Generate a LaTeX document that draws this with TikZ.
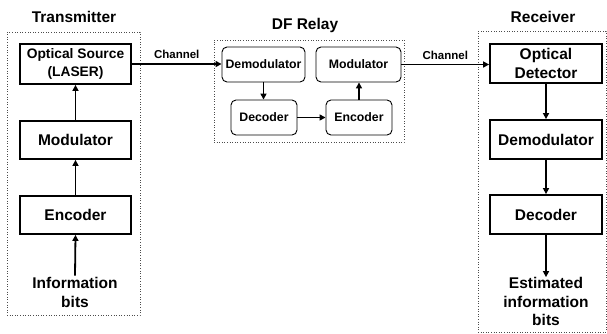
\documentclass[tikz,border=0pt]{standalone}
\usepackage{fontspec}
\setmainfont{Liberation Sans}
\usetikzlibrary{arrows.meta}
\begin{document}
\begin{tikzpicture}[x=1pt,y=-1pt,
  big/.style={font=\bfseries\fontsize{15.5}{19}\selectfont},
  blk/.style={draw,line width=1.8pt,inner sep=0pt,align=center,big},
  rblk/.style={draw,line width=0.9pt,rounded corners=5pt,inner sep=0pt,align=center,font=\bfseries\fontsize{12.3}{15}\selectfont},
  frame/.style={draw=black!70,dotted,line width=0.6pt,inner sep=0pt},
  arr/.style={line width=1.8pt,-{Triangle[length=6pt,width=6pt]}},
  ttl/.style={big,inner sep=0pt},
  lbl/.style={font=\bfseries\fontsize{11.5}{14}\selectfont,inner sep=0pt}]
\useasboundingbox (0,0) rectangle (607,333);
% frames
\node[frame,minimum width=133pt,minimum height=283pt] (txf) at (73.5,173.5) {};
\node[frame,minimum width=190pt,minimum height=102pt] (rlf) at (309,91) {};
\node[frame,minimum width=128pt,minimum height=301pt] (rxf) at (542,181.5) {};
% titles
\node[ttl] (ttx) at (74,17) {Transmitter};
\node[ttl] (trl) at (305,25) {DF Relay};
\node[ttl] (trx) at (543,17) {Receiver};
% transmitter
\node[blk,minimum width=111pt,minimum height=40pt,font=\bfseries\fontsize{13.8}{18}\selectfont] (os) at (75.5,64) {Optical Source\\(LASER)};
\node[blk,minimum width=111pt,minimum height=38pt] (tmod) at (75.5,140) {Modulator};
\node[blk,minimum width=111pt,minimum height=38pt] (tenc) at (75.5,215) {Encoder};
\node[big,align=center,inner sep=1pt] (info) at (75,292) {Information\\bits};
\draw[arr] (info.north) -- (tenc.south);
\draw[arr] (tenc.north) -- (tmod.south);
\draw[arr] (tmod.north) -- (os.south);
% relay
\node[rblk,minimum width=83pt,minimum height=35pt] (rdem) at (263.5,64.5) {Demodulator};
\node[rblk,minimum width=85pt,minimum height=35pt] (rmod) at (358.5,64.5) {Modulator};
\node[rblk,minimum width=66pt,minimum height=35pt] (rdec) at (264,117.5) {Decoder};
\node[rblk,minimum width=66pt,minimum height=35pt] (renc) at (359,117.5) {Encoder};
\draw[arr] (rdem.south) -- (rdem.south |- rdec.north);
\draw[arr] (rdec.east) -- (renc.west);
\draw[arr] (renc.north) -- (renc.north |- rmod.south);
% receiver
\node[blk,minimum width=112pt,minimum height=39pt] (od) at (546,63.5) {Optical\\Detector};
\node[blk,minimum width=112pt,minimum height=39pt] (xdem) at (546,139.5) {Demodulator};
\node[blk,minimum width=112pt,minimum height=39pt] (xdec) at (546,214.5) {Decoder};
\node[big,align=center,inner sep=0pt,font=\bfseries\fontsize{15.5}{18.5}\selectfont] (est) at (546,301.5) {Estimated\\information\\bits};
\draw[arr] (od.south) -- (xdem.north);
\draw[arr] (xdem.south) -- (xdec.north);
\draw[arr] (xdec.south) -- (est.north);
% channels
\draw[arr] (os.east) -- node[lbl,above=4pt] (ch1) {Channel} (os.east -| rdem.west);
\draw[arr] (rmod.east) -- node[lbl,above=4pt] (ch2) {Channel} (rmod.east -| od.west);
\end{tikzpicture}
\end{document}
